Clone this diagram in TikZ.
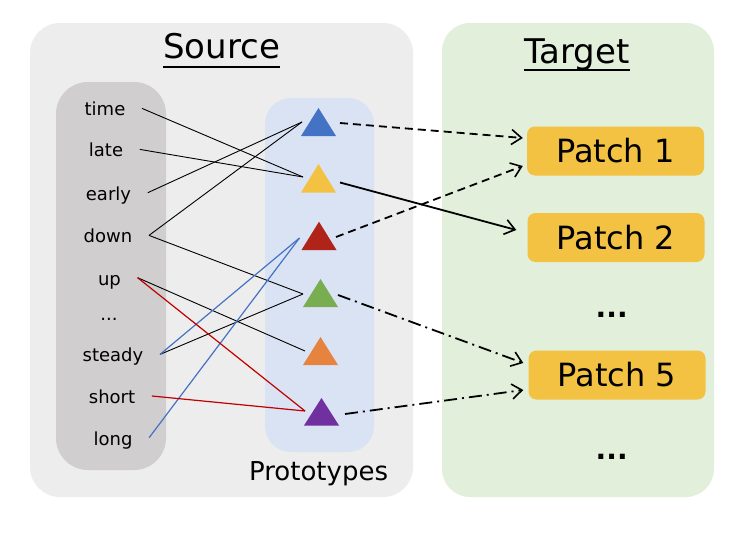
\documentclass[tikz,border=0pt]{standalone}
\usepackage{fontspec}
\setmainfont{DejaVu Sans}
\usetikzlibrary{arrows.meta,calc}
\definecolor{srcbg}{HTML}{EDEDED}
\definecolor{colbg}{HTML}{D0CECE}
\definecolor{probg}{HTML}{DAE3F3}
\definecolor{tgtbg}{HTML}{E2EFDA}
\definecolor{patchc}{HTML}{F4C242}
\definecolor{triblue}{HTML}{4472C4}
\definecolor{triyellow}{HTML}{F4C242}
\definecolor{trired}{HTML}{B02318}
\definecolor{trigreen}{HTML}{78AD52}
\definecolor{triorange}{HTML}{E6843F}
\definecolor{tripurple}{HTML}{7030A0}
\definecolor{lnblue}{HTML}{4472C4}
\definecolor{lnred}{HTML}{C00000}
\begin{document}
\begin{tikzpicture}[x=1pt,y=-1pt,
  word/.style={anchor=base,inner sep=0pt,font=\fontsize{18}{20}\selectfont},
  title/.style={anchor=base,inner sep=0pt,font=\fontsize{34}{38}\selectfont},
  patch/.style={fill=patchc,rounded corners=8pt,minimum width=177pt,minimum height=49pt,inner sep=0pt,font=\fontsize{32}{36}\selectfont},
  wl/.style={line width=0.9pt,black},
  bl/.style={line width=1.2pt,lnblue},
  rl/.style={line width=1.2pt,lnred},
  arr/.style={line width=1.8pt,black,-{Straight Barb[length=10pt,width=15pt,line width=1.6pt]}},
  dsh/.style={dash pattern=on 8pt off 5pt},
  ddot/.style={dash pattern=on 13pt off 5pt on 2pt off 5pt}
]
\useasboundingbox (0,0) rectangle (756,546);
\fill[white] (0,0) rectangle (756,546);
% panels
\fill[srcbg,rounded corners=30pt] (30,23) rectangle (413,497);
\fill[tgtbg,rounded corners=28pt] (442,23) rectangle (714,497);
\fill[colbg,rounded corners=32pt] (56,82) rectangle (166,470);
\fill[probg,rounded corners=26pt] (265,98) rectangle (374,452);
% titles
\node[title] (src) at (221.5,58.5) {Source};
\draw[line width=1.6pt] ([yshift=-8.3pt]src.base west) -- ([yshift=-8.3pt]src.base east);
\node[title] (tgt) at (577,63.3) {Target};
\draw[line width=1.6pt] ([yshift=-6.7pt]tgt.base west) -- ([yshift=-6.7pt]tgt.base east);
\node[anchor=base,inner sep=0pt,font=\fontsize{26}{30}\selectfont] (pro) at (318.6,480) {Prototypes};
% words
\node[word] (w1) at (105,115.7) {time};
\node[word] (w2) at (106,156.7) {late};
\node[word] (w3) at (108.5,200) {early};
\node[word] (w4) at (108,242.7) {down};
\node[word] (w5) at (109.5,285) {up};
\node[word] (w6) at (109,320) {...};
\node[word] (w7) at (113,361.7) {steady};
\node[word] (w8) at (112,403.3) {short};
\node[word] (w9) at (113,445) {long};
\foreach \i in {1,2,3,4,5,7,8,9} {\coordinate (s\i) at ([shift={(16.5pt,7.3pt)}]w\i.base east);}
% triangles
\fill[triblue]   (318.5,108) -- (336,136) -- (301,136) -- cycle;
\fill[triyellow] (318.5,164) -- (336,192.5) -- (301,192.5) -- cycle;
\fill[trired]    (319,221.7) -- (336.5,250) -- (301.5,250) -- cycle;
\fill[trigreen]  (320.5,279) -- (338,307) -- (303,307) -- cycle;
\fill[triorange] (320.5,337) -- (338,365) -- (303,365) -- cycle;
\fill[tripurple] (321.5,398) -- (339,425.5) -- (304,425.5) -- cycle;
\coordinate (t1i) at (302,122);
\coordinate (t2i) at (303,177);
\coordinate (t3i) at (299.5,238);
\coordinate (t4i) at (303,294);
\coordinate (t5i) at (305,351);
\coordinate (t6i) at (305,411);
\coordinate (t1o) at (340,123);
\coordinate (t2o) at (340,182.5);
\coordinate (t3o) at (336,237);
\coordinate (t4o) at (338,295);
\coordinate (t6o) at (345,414);
% word connections
\draw[wl] (s1) -- (t2i);
\draw[wl] (s2) -- (t2i);
\draw[wl] (s3) -- (t1i);
\draw[wl] (s4) -- (t1i);
\draw[wl] (s4) -- (t4i);
\draw[wl] (s5) -- (t5i);
\draw[wl] (s7) -- (t4i);
\draw[bl] (s7) -- (t3i);
\draw[bl] (s9) -- (t3i);
\draw[rl] (s5) -- (t6i);
\draw[rl] (s8) -- (t6i);
% patches
\node[patch] (p1) at (615.5,151) {Patch 1};
\node[patch] (p2) at (616,237.5) {Patch 2};
\node[patch] (p5) at (617,375) {Patch 5};
\node[inner sep=0pt,font=\bfseries\fontsize{28}{30}\selectfont] (d1) at (611.7,315) {...};
\node[inner sep=0pt,font=\bfseries\fontsize{28}{30}\selectfont] (d2) at (611.7,456.7) {...};
% arrows
\draw[arr,dsh] (t1o) -- ([shift={(-4pt,13pt)}]p1.west);
\draw[arr,dsh] (t3o) -- ([shift={(-4pt,-15pt)}]p1.west);
\draw[arr] (t2o) -- ([shift={(-11pt,7.5pt)}]p2.west);
\draw[arr,ddot] (t4o) -- ([shift={(-5pt,12pt)}]p5.west);
\draw[arr,ddot] (t6o) -- ([shift={(-5pt,-15pt)}]p5.west);
\end{tikzpicture}
\end{document}
